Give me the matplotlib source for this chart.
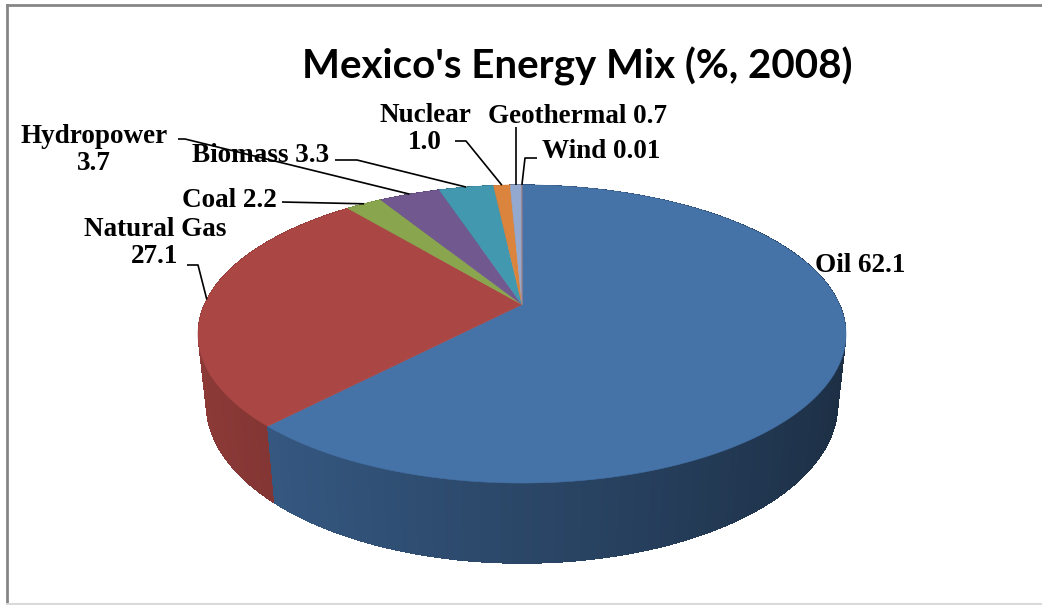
import numpy as np
import matplotlib
matplotlib.use("Agg")
import matplotlib.pyplot as plt
from matplotlib.collections import PolyCollection
from matplotlib.colors import to_rgb

# Mexico energy mix, 2008 (%)
sources = ['Oil', 'Natural Gas', 'Coal', 'Hydropower', 'Biomass',
           'Nuclear', 'Geothermal', 'Wind']
shares = [62.1, 27.1, 2.2, 3.7, 3.3, 1.0, 0.7, 0.01]
share_text = ['62.1', '27.1', '2.2', '3.7', '3.3', '1.0', '0.7', '0.01']
colors = ['#4572A7', '#AA4643', '#89A54E', '#71588F', '#4198AF',
          '#DB843D', '#93A9CF', '#A47D7C']

# 3D pie view: elevation, camera distance, thickness (units of radius)
SIN_E, COS_E = 0.451, 0.893
CAM = 4.52
THICK = 0.25
CX, CY = 522.0, 304.5


def radius_scale():
    phi = np.linspace(-np.pi, np.pi, 2000)
    return 324.0 / np.max(np.cos(phi) * CAM / (CAM + np.sin(phi) * COS_E))


SCALE = radius_scale()


def project(phi, z=0.0):
    x, y = np.cos(phi), np.sin(phi)
    v = y * SIN_E + z * COS_E
    w = y * COS_E - z * SIN_E
    k = CAM / (CAM + w)
    return CX + SCALE * x * k, CY - SCALE * v * k


fig = plt.figure(figsize=(10.42, 6.05), dpi=100)
ax = fig.add_axes([0, 0, 1, 1])
ax.set_xlim(0, 1042)
ax.set_ylim(605, 0)
ax.axis('off')

total = sum(shares)
bounds = np.radians(90 - 360 * np.concatenate([[0], np.cumsum(shares)]) / total)

# outer side wall, split in thin strips for shading
quads, qcolors, depth = [], [], []
for i, c in enumerate(colors):
    a0, a1 = bounds[i], bounds[i + 1]
    n = max(2, int(abs(a1 - a0) / np.radians(0.5)))
    t = np.linspace(a0, a1, n + 1)
    base = np.array(to_rgb(c))
    for j in range(n):
        p, q = t[j], t[j + 1]
        xt0, yt0 = project(p, 0)
        xt1, yt1 = project(q, 0)
        xb1, yb1 = project(q, -THICK)
        xb0, yb0 = project(p, -THICK)
        quads.append([(xt0, yt0), (xt1, yt1), (xb1, yb1), (xb0, yb0)])
        m = 0.5 * (p + q)
        f = 0.62 - 0.22 * np.cos(m)
        qcolors.append(np.clip(base * f, 0, 1))
        depth.append(np.sin(m))
order = np.argsort(depth)[::-1]
side = PolyCollection([quads[k] for k in order],
                      facecolors=[qcolors[k] for k in order],
                      edgecolors='none', linewidths=0, antialiaseds=False)
ax.add_collection(side)

# top faces
for i, c in enumerate(colors):
    a0, a1 = bounds[i], bounds[i + 1]
    t = np.linspace(a0, a1, max(3, int(abs(a1 - a0) / np.radians(0.5))))
    xs, ys = project(t, 0)
    pts = [(CX, CY)] + list(zip(xs, ys))
    ax.add_patch(plt.Polygon(pts, closed=True, facecolor=c, edgecolor=c,
                             linewidth=0.4))

# data labels and leader lines
lab_font = dict(family='Liberation Serif', weight='bold', size=19.5,
                color='black')
mids = 0.5 * (bounds[:-1] + bounds[1:])
anchors = [project(m, 0) for m in mids]

label_pos = {
    'Oil': (815, 272, 'left', 'baseline', ' '),
    'Natural Gas': (155, 243, 'center', 'center', '\n'),
    'Coal': (182, 207, 'left', 'baseline', ' '),
    'Hydropower': (94, 150, 'center', 'center', '\n'),
    'Biomass': (192, 162, 'left', 'baseline', ' '),
    'Nuclear': (425, 129, 'center', 'center', '\n'),
    'Geothermal': (488, 123, 'left', 'baseline', ' '),
    'Wind': (542, 158, 'left', 'baseline', ' '),
}
for name, val in zip(sources, share_text):
    x, y, ha, va, sep = label_pos[name]
    ax.text(x, y, name + sep + val, ha=ha, va=va, linespacing=1.15,
            multialignment='center', **lab_font)

leaders = {
    'Natural Gas': [(187, 265), (198, 265)],
    'Coal': [(282, 202)],
    'Hydropower': [(178, 139), (185, 139)],
    'Biomass': [(335, 160), (357, 160)],
    'Nuclear': [(455, 141), (466, 141)],
    'Geothermal': [(None, 127)],
    'Wind': [(537, 158), (525, 158)],
}
for i, name in enumerate(sources):
    if name not in leaders:
        continue
    ax_, ay_ = anchors[i]
    pts = [(ax_ if px is None else px, py) for px, py in leaders[name]]
    pts.append((ax_, ay_))
    xs, ys = zip(*pts)
    ax.plot(xs, ys, color='black', lw=1.2, solid_capstyle='butt')

ax.text(577, 78, "Mexico's Energy Mix (%, 2008)", ha='center', va='baseline',
        family='Lato', weight='bold', size=29, color='black')

# chart border
ax.plot([7, 7], [5, 605], color='#868686', lw=2)
ax.plot([7, 1042], [5, 5], color='#868686', lw=2)
ax.plot([7, 1042], [604, 604], color='#d9d9d9', lw=1.5)

fig.savefig('out.png', dpi=100, facecolor='white')
